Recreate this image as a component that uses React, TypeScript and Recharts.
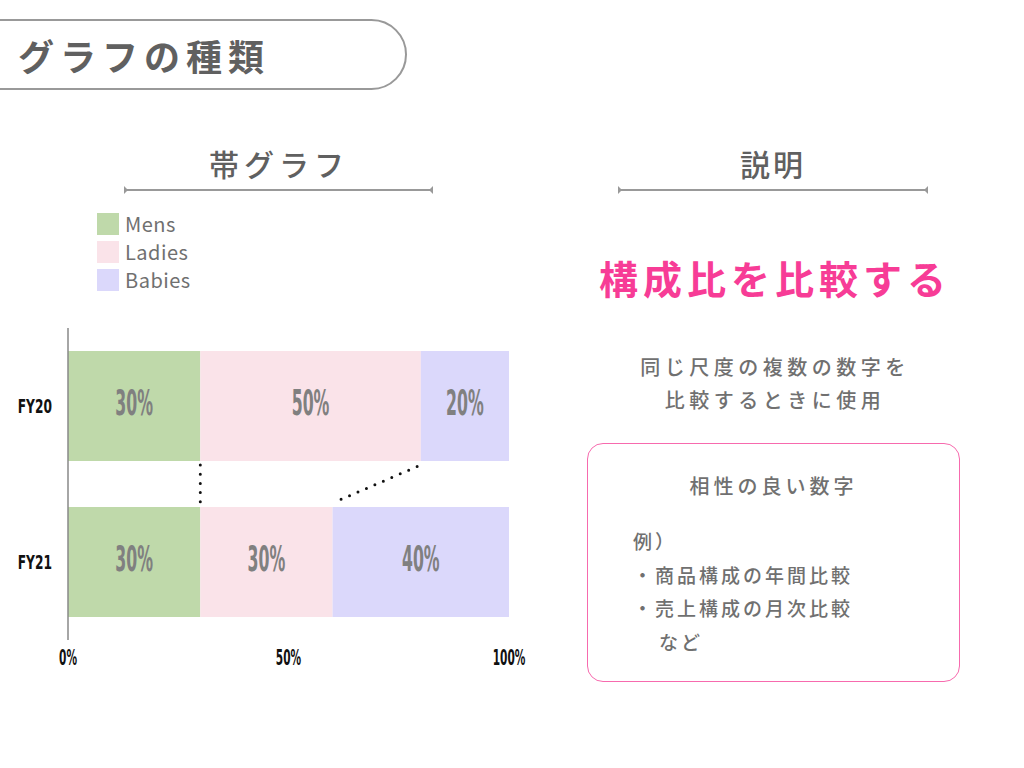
import React from "react";
import { BarChart, Bar, XAxis, YAxis, Legend, LabelList, ReferenceLine } from "recharts";

const years = ["FY20", "FY21"];
const mens = [30, 30];
const ladies = [50, 30];
const babies = [20, 40];
const xTicks = [0, 50, 100];
const seriesNames = ["Mens", "Ladies", "Babies"];
const seriesColors = ["#BFD9AA", "#FAE3E9", "#DBD8FB"];

const data = years.map((y, i) => ({ year: y, Mens: mens[i], Ladies: ladies[i], Babies: babies[i] }));

const GRAY = "#707070";
const PINK = "#F73C96";
const NARROW = "'Liberation Sans Narrow', 'DejaVu Sans Condensed', 'Roboto', sans-serif";
const JP = "'Noto Sans CJK JP', 'Noto Sans', sans-serif";

const BarLabel = (props: any) => {
  const { x, y, width, height, value } = props;
  const cx = Number(x) + Number(width) / 2;
  const cy = Number(y) + Number(height) / 2 - 3;
  return (
    <text
      transform={`translate(${cx},${cy}) scale(0.5,1)`}
      textAnchor="middle"
      dominantBaseline="central"
      fontSize={35}
      fontWeight="bold"
      fontFamily={NARROW}
      fill="#808080"
    >
      {`${value}%`}
    </text>
  );
};

const XTick = (props: any) => {
  const { x, y, payload } = props;
  return (
    <text
      transform={`translate(${x},${Number(y) + 10}) scale(0.56,1)`}
      textAnchor="middle"
      dominantBaseline="central"
      fontSize={21}
      fontWeight="bold"
      fontFamily={NARROW}
      fill="#111"
    >
      {`${payload.value}%`}
    </text>
  );
};

const YTick = (props: any) => {
  const { x, y, payload } = props;
  return (
    <text
      transform={`translate(${Number(x) - 2},${y}) scale(0.68,1)`}
      textAnchor="end"
      dominantBaseline="central"
      fontSize={20}
      fontWeight="bold"
      fontFamily={NARROW}
      fill="#111"
    >
      {payload.value}
    </text>
  );
};

const LegendContent = (props: any) => {
  const raw = props.payload && props.payload.length ? props.payload : seriesNames.map((n, i) => ({ value: n, color: seriesColors[i] }));
  const payload = [...raw].sort((a: any, b: any) => seriesNames.indexOf(a.value) - seriesNames.indexOf(b.value));
  return (
    <div style={{ height: 123, boxSizing: "border-box", paddingLeft: 97, paddingTop: 5 }}>
      {payload.map((p: any) => (
        <div key={p.value} style={{ display: "flex", alignItems: "center", height: 28 }}>
          <div style={{ width: 22, height: 22, background: p.color, marginRight: 6 }} />
          <span style={{ fontFamily: JP, fontSize: 20, color: GRAY, letterSpacing: 0.5, lineHeight: "28px" }}>{p.value}</span>
        </div>
      ))}
    </div>
  );
};

const makeConnector = (inset: number) => (props: any) => {
  const { x1, y1, x2, y2 } = props;
  if ([x1, y1, x2, y2].some((v) => v === undefined || isNaN(Number(v)))) return <g />;
  const half = 55;
  const ax = Number(x1), ay = Number(y1) + half + 4;
  const bx = Number(x2), by = Number(y2) - half - 4;
  const dx = bx - ax, dy = by - ay;
  const len = Math.sqrt(dx * dx + dy * dy);
  const ux = dx / len, uy = dy / len;
  return (
    <line
      x1={ax + ux * inset}
      y1={ay + uy * inset}
      x2={bx - ux * inset}
      y2={by - uy * inset}
      stroke="#111"
      strokeWidth={3}
      strokeLinecap="round"
      strokeDasharray="0 9.2"
    />
  );
};

const DimLine = ({ left, width, top }: { left: number; width: number; top: number }) => (
  <svg style={{ position: "absolute", left, top: top - 5, overflow: "visible" }} width={width} height={10}>
    <line x1={0} y1={5} x2={width} y2={5} stroke="#999" strokeWidth={2} />
    <path d={`M0,1 L4,5 L0,9 Z`} fill="#999" />
    <path d={`M${width},1 L${width - 4},5 L${width},9 Z`} fill="#999" />
  </svg>
);

export default function App() {
  const cumFY20Mens = mens[0];
  const cumLadies20 = mens[0] + ladies[0];
  const cumLadies21 = mens[1] + ladies[1];
  return (
    <div style={{ position: "absolute", left: 0, top: 0, width: 1024, height: 768, background: "#fff", overflow: "hidden", fontFamily: JP }}>
      <div
        style={{
          position: "absolute",
          left: -40,
          top: 19,
          width: 447,
          height: 71,
          boxSizing: "border-box",
          border: "2px solid #999",
          borderRadius: 36,
        }}
      />
      <div style={{ position: "absolute", left: 18, top: 30, height: 50, lineHeight: "50px", fontSize: 36, fontWeight: 700, color: "#606060", letterSpacing: 6, whiteSpace: "nowrap" }}>
        グラフの種類
      </div>

      <div style={{ position: "absolute", left: 124, width: 310, top: 143, textAlign: "center", fontSize: 30, fontWeight: 500, color: "#606060", letterSpacing: 5, lineHeight: "40px" }}>
        帯グラフ
      </div>
      <DimLine left={124} width={309} top={190} />

      <div style={{ position: "absolute", left: 618, width: 310, top: 143, textAlign: "center", fontSize: 30, fontWeight: 500, color: "#606060", letterSpacing: 3, lineHeight: "40px" }}>
        説明
      </div>
      <DimLine left={618} width={310} top={190} />

      <div style={{ position: "absolute", left: 560, width: 430, top: 250, textAlign: "center", fontSize: 39, fontWeight: 700, color: PINK, letterSpacing: 5, lineHeight: "54px", whiteSpace: "nowrap" }}>
        構成比を比較する
      </div>

      <div style={{ position: "absolute", left: 580, width: 390, top: 350, textAlign: "center", fontSize: 20, fontWeight: 500, color: GRAY, letterSpacing: 4.5, lineHeight: "33px", whiteSpace: "nowrap" }}>
        同じ尺度の複数の数字を
        <br />
        比較するときに使用
      </div>

      <div
        style={{
          position: "absolute",
          left: 587,
          top: 443,
          width: 373,
          height: 239,
          boxSizing: "border-box",
          border: "1.5px solid #F76AAE",
          borderRadius: 16,
        }}
      />
      <div style={{ position: "absolute", left: 587, width: 373, top: 470, textAlign: "center", fontSize: 20, fontWeight: 500, color: GRAY, letterSpacing: 4, lineHeight: "32px", whiteSpace: "nowrap" }}>
        相性の良い数字
      </div>
      <div style={{ position: "absolute", left: 633, top: 524, fontSize: 19, fontWeight: 500, color: GRAY, letterSpacing: 3, lineHeight: "33.5px", whiteSpace: "nowrap" }}>
        <div>例）</div>
        <div>・商品構成の年間比較</div>
        <div>・売上構成の月次比較</div>
        <div style={{ paddingLeft: 26 }}>など</div>
      </div>

      <div style={{ position: "absolute", left: 0, top: 205 }}>
        <BarChart
          width={540}
          height={475}
          data={data}
          layout="vertical"
          margin={{ top: 0, right: 31, left: 0, bottom: 10 }}
          barSize={110}
        >
          <Legend verticalAlign="top" align="left" layout="horizontal" content={<LegendContent />} />
          <XAxis
            type="number"
            domain={[0, 100]}
            ticks={xTicks}
            axisLine={false}
            tickLine={false}
            height={30}
            tick={<XTick />}
            interval={0}
          />
          <YAxis
            type="category"
            dataKey="year"
            width={68}
            axisLine={{ stroke: "#888", strokeWidth: 1.5 }}
            tickLine={false}
            tick={<YTick />}
            tickMargin={8}
          />
          {seriesNames.map((name, i) => (
            <Bar key={name} dataKey={name} name={name} stackId="a" fill={seriesColors[i]} isAnimationActive={false}>
              <LabelList dataKey={name} content={<BarLabel />} />
            </Bar>
          ))}
          <ReferenceLine
            segment={[
              { x: cumFY20Mens, y: years[0] },
              { x: mens[1], y: years[1] },
            ]}
            shape={makeConnector(0)}
            ifOverflow="visible"
          />
          <ReferenceLine
            segment={[
              { x: cumLadies20, y: years[0] },
              { x: cumLadies21, y: years[1] },
            ]}
            shape={makeConnector(4)}
            ifOverflow="visible"
          />
        </BarChart>
      </div>
    </div>
  );
}
